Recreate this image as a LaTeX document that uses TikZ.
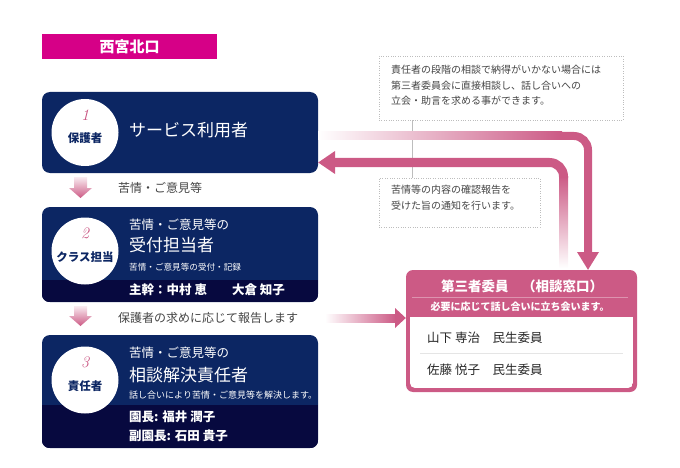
\documentclass[tikz,border=0pt]{standalone}
\usepackage{fontspec}
\newfontfamily\jp{Noto Sans CJK JP}
\definecolor{navy}{HTML}{0C2663}
\definecolor{bandc}{HTML}{07093F}
\definecolor{pk}{HTML}{CC5A85}
\definecolor{mg}{HTML}{D60087}
\definecolor{numpk}{HTML}{C8507E}
\definecolor{txtgray}{HTML}{444444}
\definecolor{notegray}{HTML}{BDBDBD}
\newcommand{\fs}[2]{\fontsize{#1}{#2}\selectfont}
\begin{document}
\begin{tikzpicture}[x=1pt,y=-1pt,
  box/.style={fill=navy, rounded corners=8pt, inner sep=0pt, minimum width=276pt},
  disc/.style={circle, fill=white, inner sep=0pt, minimum size=67pt},
  num/.style={text=numpk, font=\fs{16}{16}\itshape, inner sep=0pt},
  role/.style={text=navy, font=\jp\bfseries\fs{11.5}{12}, inner sep=0pt},
  head/.style={text=white, font=\jp\fs{17}{18}, inner sep=0pt, anchor=west},
  sub/.style={text=white, font=\jp\fs{12.5}{13}, inner sep=0pt, anchor=west},
  small/.style={text=white, font=\jp\fs{8.6}{9}, inner sep=0pt, anchor=west},
  bandtxt/.style={text=white, font=\jp\bfseries\fs{12.5}{13}, inner sep=0pt, anchor=west},
  outtxt/.style={text=txtgray, font=\jp\fs{12}{13}, inner sep=0pt, anchor=west},
  note/.style={draw=notegray, dotted, inner sep=0pt},
  notetxt/.style={text=txtgray, font=\jp\fs{10}{15.5}, inner sep=0pt, anchor=north west, align=left},
  namet/.style={text=black!85, font=\jp\fs{12.5}{13}, inner sep=0pt, anchor=west}]
\useasboundingbox (0,0) rectangle (680,468);

% title bar
\node[fill=mg, minimum width=175pt, minimum height=25pt, inner sep=0pt,
      text=white, font=\jp\bfseries\fs{15}{15}] (title) at (129.5,46.5) {西宮北口};

% notes and connecting line
\node[note, minimum width=244pt, minimum height=64pt] (n1) at (501,88) {};
\node[notetxt] at (391,65) {責任者の段階の相談で納得がいかない場合には\\第三者委員会に直接相談し、話し合いへの\\立会・助言を求める事ができます。};
\node[note, minimum width=161pt, minimum height=49pt] (n2) at (459.5,202.5) {};
\node[notetxt] at (391,185) {苦情等の内容の確認報告を\\受けた旨の通知を行います。};
\coordinate (vx) at (412,0);
\draw[notegray, line width=0.5pt] (n1.south -| vx) -- (n2.north -| vx);

% box 1
\node[box, minimum height=81pt] (b1) at (180,132.5) {};
\node[disc] (c1) at (85,132.5) {};
\node[num] at (85,115) {1};
\node[role] at (85,138) {保護者};
\node[head] at (129,130) {サービス利用者};

% box 2
\node[box, minimum height=95pt] (b2) at (180,254.5) {};
\begin{scope}
  \clip[rounded corners=8pt] (b2.north west) rectangle (b2.south east);
  \fill[bandc] (42,280) rectangle (318,302);
\end{scope}
\node[disc] (c2) at (85,251) {};
\node[num] at (85,233) {2};
\node[role] at (85,257) {クラス担当};
\node[sub] at (129,225) {苦情・ご意見等の};
\node[head] at (129,245) {受付担当者};
\node[small] at (129,267) {苦情・ご意見等の受付・記録};
\node[bandtxt] at (129,290) {主幹：中村 恵　　大倉 知子};

% box 3
\node[box, minimum height=113pt] (b3) at (180,391.5) {};
\begin{scope}
  \clip[rounded corners=8pt] (b3.north west) rectangle (b3.south east);
  \fill[bandc] (42,405) rectangle (318,448);
\end{scope}
\node[disc] (c3) at (85,380) {};
\node[num] at (85,362) {3};
\node[role] at (85,386) {責任者};
\node[sub] at (129,353) {苦情・ご意見等の};
\node[head] at (129,375) {相談解決責任者};
\node[small, font=\jp\fs{9}{9}] at (129,395) {話し合いにより苦情・ご意見等を解決します。};
\node[bandtxt] at (129,417) {園長: 福井 潤子};
\node[bandtxt] at (129,436) {副園長: 石田 貴子};

% down arrows
\shade[top color=pk!12, bottom color=pk] (74,177) -- (87,177) -- (87,188) -- (92,188) -- (80.5,198) -- (69,188) -- (74,188) -- cycle;
\node[outtxt] at (118,188) {苦情・ご意見等};
\shade[top color=pk!12, bottom color=pk] (74,306) -- (87,306) -- (87,316) -- (92,316) -- (80.5,326) -- (69,316) -- (74,316) -- cycle;
\node[outtxt] at (118,318) {保護者の求めに応じて報告します};

% third-party box
\node[fill=pk, rounded corners=7pt, minimum width=231pt, minimum height=122pt, inner sep=0pt] (tp) at (521.5,331) {};
\begin{scope}
  \clip[rounded corners=5pt] (410,300) rectangle (633,388);
  \fill[white] (410,317) rectangle (633,388);
\end{scope}
\node[text=white, font=\jp\bfseries\fs{13.5}{14}, inner sep=0pt] at (522,286) {第三者委員　（相談窓口）};
\draw[white, opacity=0.35, line width=0.6pt] (412,297) -- (628,297);
\node[text=white, font=\jp\bfseries\fs{10}{10}, inner sep=0pt] at (520,307) {必要に応じて話し合いに立ち会います。};
\node[namet] at (427,338) {山下 専治　民生委員};
\draw[black!10, line width=0.6pt] (420,353) -- (623,353);
\node[namet] at (427,370) {佐藤 悦子　民生委員};

% arrow A: box1 -> third party
\shade[left color=white, right color=pk] (b1.east |- 0,132) rectangle (562,140);
\draw[pk, line width=8pt, rounded corners=14pt] (560,136) -| (588,254);
\fill[pk] (577,252) -- (599,252) -- (tp.north -| 588,0) -- cycle;

% arrow B: third party -> box1
\shade[top color=pk, bottom color=white] (559,176) rectangle (568,268);
\draw[pk, line width=9pt, rounded corners=14pt] (563.5,178) |- (334,162.5);
\fill[pk] (335,151) -- (335,174) -- (b1.east |- 0,162.5) -- cycle;

% arrow C: box2/3 -> third party
\shade[left color=white, right color=pk] (325,314) rectangle (396,322);
\fill[pk] (395,308) -- (395,328) -- (tp.west |- 0,318) -- cycle;
\end{tikzpicture}
\end{document}
